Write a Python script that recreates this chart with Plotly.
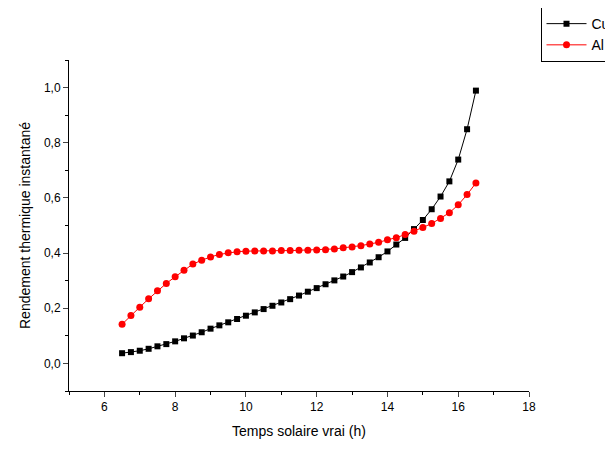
import plotly.graph_objects as go

# time (h)
temps = [6.5 + 0.25 * i for i in range(41)]

cu = [0.037, 0.041, 0.046, 0.053, 0.062, 0.070, 0.080, 0.091, 0.101, 0.113,
      0.126, 0.138, 0.149, 0.161, 0.173, 0.185, 0.197, 0.209, 0.221, 0.233,
      0.246, 0.260, 0.273, 0.287, 0.301, 0.315, 0.331, 0.348, 0.366, 0.385,
      0.406, 0.431, 0.455, 0.487, 0.520, 0.559, 0.605, 0.660, 0.739, 0.849, 0.989]

al = [0.142, 0.174, 0.204, 0.234, 0.263, 0.290, 0.314, 0.338, 0.360, 0.374,
      0.386, 0.395, 0.401, 0.405, 0.407, 0.408, 0.408, 0.408, 0.409, 0.409,
      0.410, 0.410, 0.411, 0.412, 0.415, 0.419, 0.422, 0.427, 0.433, 0.439,
      0.448, 0.456, 0.467, 0.479, 0.493, 0.507, 0.525, 0.546, 0.575, 0.612, 0.654]

yticks = [0.0, 0.2, 0.4, 0.6, 0.8, 1.0]
ytext = ["0,0", "0,2", "0,4", "0,6", "0,8", "1,0"]

fig = go.Figure()
fig.add_trace(go.Scatter(x=temps, y=cu, name="Cu", mode="lines+markers",
                         line=dict(color="black", width=1),
                         marker=dict(symbol="square", size=6, color="black")))
fig.add_trace(go.Scatter(x=temps, y=al, name="Al", mode="lines+markers",
                         line=dict(color="red", width=1),
                         marker=dict(symbol="circle", size=7, color="red")))

tick_font = dict(family="Arial, Liberation Sans", size=12, color="black")
title_font = dict(family="Arial, Liberation Sans", size=14, color="black")
fig.update_xaxes(range=[5, 18], tickvals=[6, 8, 10, 12, 14, 16, 18],
                 ticks="outside", ticklen=5, showline=True, linecolor="black",
                 showgrid=False, zeroline=False, tickfont=tick_font,
                 minor=dict(dtick=1, ticks="outside", ticklen=3, tickcolor="black"),
                 title=dict(text="Temps solaire vrai (h)", font=title_font, standoff=12))
fig.update_yaxes(range=[-0.1, 1.1], tickvals=yticks, ticktext=ytext,
                 ticks="outside", ticklen=5, showline=True, linecolor="black",
                 showgrid=False, zeroline=False, tickfont=tick_font,
                 minor=dict(dtick=0.1, tick0=0, ticks="outside", ticklen=3, tickcolor="black"),
                 title=dict(text="Rendement thermique instantané", font=title_font, standoff=10))

fig.update_layout(width=613, height=449, plot_bgcolor="white", paper_bgcolor="white",
                  margin=dict(l=61, r=92, t=52, b=66, autoexpand=False),
                  font=tick_font,
                  legend=dict(x=1.025, y=1.16, xanchor="left", yanchor="top",
                              bordercolor="black", borderwidth=1, itemwidth=40,
                              font=dict(size=14), tracegroupgap=0))

fig.write_html("out.html")
